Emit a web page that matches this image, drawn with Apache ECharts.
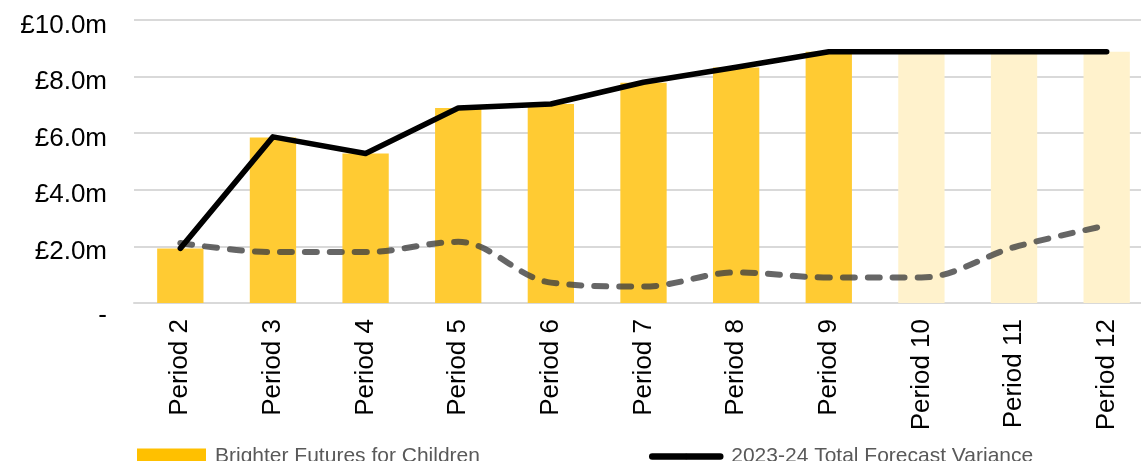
<!DOCTYPE html>
<html>
<head>
<meta charset="utf-8">
<title>Brighter Futures for Children</title>
<script src="https://cdn.jsdelivr.net/npm/echarts@6/dist/echarts.min.js"></script>
<style>
  html, body { margin: 0; padding: 0; background: #ffffff; }
  #chart { width: 1141px; height: 461px; }
</style>
</head>
<body>
<div id="chart"></div>
<script>
// Reporting periods shown on the category axis
const categories = ['Period 2', 'Period 3', 'Period 4', 'Period 5', 'Period 6', 'Period 7',
                    'Period 8', 'Period 9', 'Period 10', 'Period 11', 'Period 12'];

// Brighter Futures for Children forecast overspend (£m)
const bffcValues = [1.93, 5.85, 5.28, 6.89, 7.03, 7.78, 8.32, 8.88, 8.88, 8.88, 8.88];

// Periods from this index onward are projections and drawn in a pale tint
const firstProjectedIndex = 8;

// 2023-24 total forecast variance (£m)
const totalVariance = [1.93, 5.87, 5.28, 6.89, 7.03, 7.80, 8.33, 8.88, 8.88, 8.88, 8.88];

// Secondary variance trend (£m), dashed line
const otherVariance = [2.12, 1.80, 1.80, 2.16, 0.72, 0.58, 1.08, 0.90, 0.90, 1.97, 2.74];

// Value axis ticks (£m)
const yMin = 0, yMax = 10, yStep = 2;

const FONT = 'Liberation Sans, Arial, sans-serif';
const BAR = '#FFCB33';
const BAR_PROJECTED = '#FFF2CC';

const barData = bffcValues.map((v, i) =>
  i >= firstProjectedIndex ? { value: v, itemStyle: { color: BAR_PROJECTED } } : v);

const chart = echarts.init(document.getElementById('chart'));

chart.setOption({
  animation: false,
  backgroundColor: '#ffffff',
  grid: { left: 134, right: -12, top: 20, bottom: 158, outerBoundsMode: 'none' },
  legend: [
    {
      data: [{ name: 'Brighter Futures for Children', icon: 'rect', itemStyle: { color: '#FFC000' } }],
      left: 137, top: 446,
      padding: 0,
      itemWidth: 69, itemHeight: 16,
      selectedMode: false,
      textStyle: { fontFamily: FONT, fontSize: 21, color: '#595959', padding: [0, 0, 0, 4] }
    },
    {
      data: ['2023-24 Total Forecast Variance'],
      left: 649, top: 446,
      padding: 0,
      itemWidth: 68, itemHeight: 7,
      selectedMode: false,
      lineStyle: { width: 6.5, cap: 'round', color: '#000000' },
      itemStyle: { color: '#000000' },
      textStyle: { fontFamily: FONT, fontSize: 21, color: '#595959', padding: [0, 0, 0, 6] }
    }
  ],
  xAxis: {
    type: 'category',
    data: categories,
    axisLine: { show: true, lineStyle: { color: '#D9D9D9', width: 2 } },
    axisTick: { show: false },
    axisLabel: {
      rotate: 90,
      margin: 16,
      interval: 0,
      fontFamily: FONT,
      fontSize: 26,
      color: '#000000'
    }
  },
  yAxis: {
    type: 'value',
    min: yMin,
    max: yMax,
    interval: yStep,
    axisLine: { show: false },
    axisTick: { show: false },
    splitLine: { lineStyle: { color: '#D9D9D9', width: 2 } },
    axisLabel: {
      margin: 27,
      formatter: v => v === 0 ? '{z|-}' : '{v|£' + v.toFixed(1) + 'm}',
      rich: {
        v: { fontFamily: FONT, fontSize: 26, color: '#000000', padding: [11, 0, 0, 0] },
        z: { fontFamily: FONT, fontSize: 26, color: '#000000', padding: [26, 0, 0, 0] }
      }
    }
  },
  series: [
    {
      name: 'Brighter Futures for Children',
      type: 'bar',
      data: barData,
      barWidth: '50%',
      itemStyle: { color: BAR },
      emphasis: { disabled: true }
    },
    {
      name: 'Other variance',
      type: 'line',
      data: otherVariance,
      smooth: 0.35,
      symbol: 'none',
      lineStyle: { color: 'rgba(64,64,64,0.8)', width: 6, type: [12, 13], cap: 'round', join: 'round' },
      itemStyle: { color: 'rgba(64,64,64,0.8)' },
      emphasis: { disabled: true }
    },
    {
      name: '2023-24 Total Forecast Variance',
      type: 'line',
      data: totalVariance,
      symbol: 'none',
      lineStyle: { color: '#000000', width: 5.5, cap: 'round', join: 'round' },
      itemStyle: { color: '#000000' },
      emphasis: { disabled: true }
    }
  ]
});
</script>
</body>
</html>
